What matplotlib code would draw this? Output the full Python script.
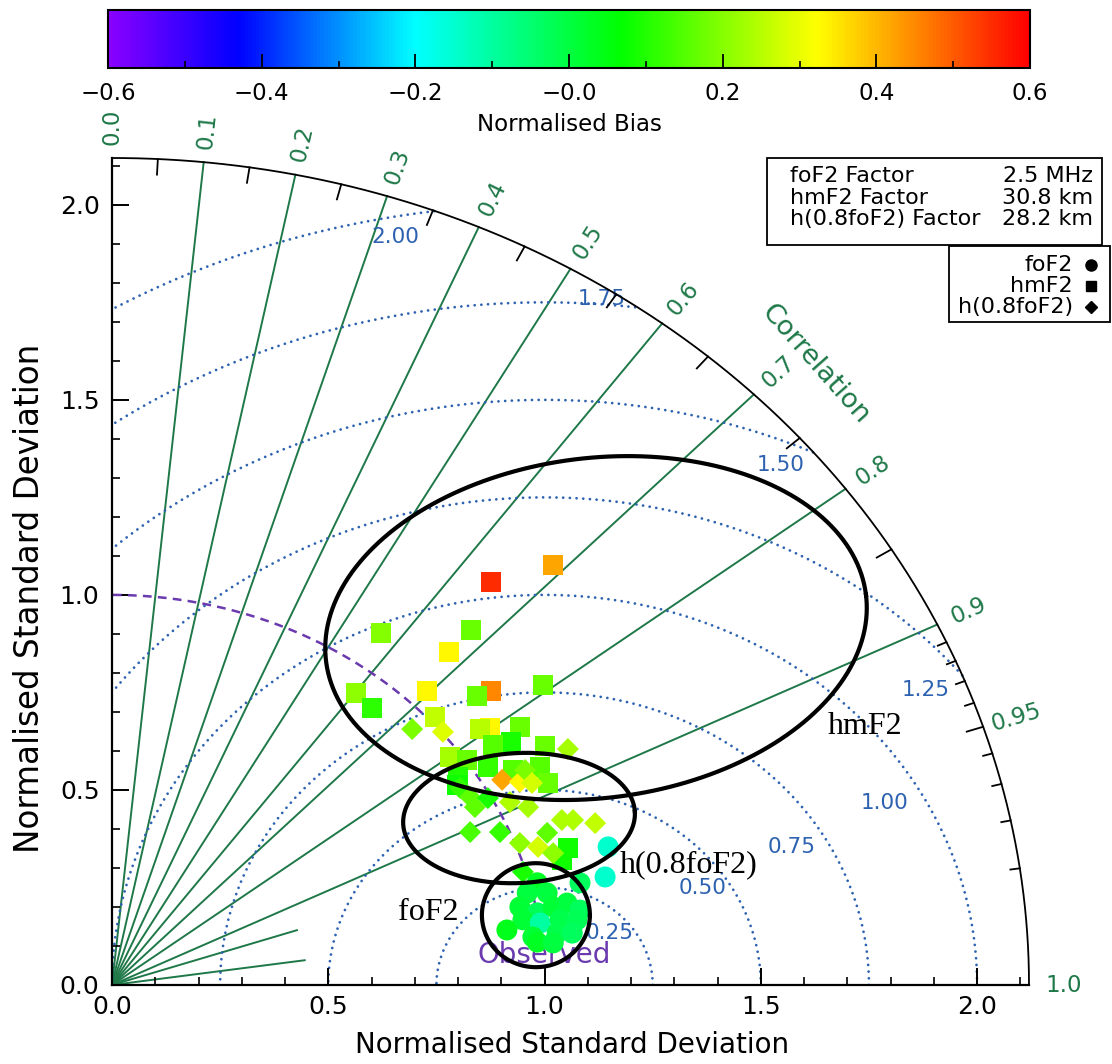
import numpy as np
import matplotlib
matplotlib.use("Agg")
import matplotlib.pyplot as plt
from matplotlib.colors import LinearSegmentedColormap, Normalize
from matplotlib.patches import Rectangle
from matplotlib.lines import Line2D
import matplotlib.cm as cm

W, H, DPI = 1112, 1064, 100

# ---------------- data (normalised std components) -------------
hm_x = [0.876, 1.020, 0.622, 0.830, 0.779, 0.564, 0.601, 0.728, 0.876, 0.844, 0.997,
        0.747, 0.874, 0.851, 0.943, 0.922, 1.001, 0.881, 0.781, 0.821, 0.869, 0.800,
        0.990, 1.008, 0.927, 1.054, 1.040, 0.798]
hm_y = [1.033, 1.077, 0.903, 0.910, 0.854, 0.749, 0.710, 0.754, 0.754, 0.741, 0.769,
        0.687, 0.659, 0.656, 0.662, 0.623, 0.613, 0.615, 0.585, 0.577, 0.559, 0.533,
        0.559, 0.518, 0.551, 0.351, 0.321, 0.513]
hm_bias = [0.55, 0.42, 0.20, 0.17, 0.33, 0.21, 0.11, 0.33, 0.45, 0.17, 0.17,
           0.26, 0.33, 0.25, 0.17, 0.09, 0.17, 0.15, 0.23, 0.17, 0.12, 0.10,
           0.15, 0.17, 0.15, 0.08, 0.08, 0.08]

h08_x = [0.694, 0.765, 1.054, 0.902, 0.943, 0.955, 0.971, 0.805, 0.828, 0.869, 0.920,
         0.962, 0.839, 1.040, 1.066, 1.117, 0.828, 0.897, 1.006, 0.943, 0.985, 1.020, 0.950]
h08_y = [0.656, 0.649, 0.605, 0.526, 0.521, 0.551, 0.518, 0.505, 0.482, 0.479, 0.469,
         0.456, 0.456, 0.423, 0.423, 0.415, 0.392, 0.392, 0.390, 0.364, 0.354, 0.338, 0.290]
h08_bias = [0.19, 0.29, 0.23, 0.42, 0.33, 0.19, 0.28, 0.12, 0.16, 0.09, 0.24,
            0.23, 0.16, 0.24, 0.24, 0.26, 0.14, 0.12, 0.16, 0.21, 0.28, 0.21, 0.09]

fo_x = [1.147, 1.140, 1.082, 0.983, 0.960, 1.006, 0.943, 0.983, 1.020, 1.052, 1.082,
        0.950, 0.990, 1.036, 1.075, 0.913, 0.973, 1.029, 1.064, 0.983, 1.020]
fo_y = [0.354, 0.277, 0.262, 0.262, 0.236, 0.236, 0.200, 0.185, 0.200, 0.210, 0.192,
        0.167, 0.159, 0.167, 0.167, 0.141, 0.123, 0.133, 0.133, 0.110, 0.108]
fo_bias = [-0.15, -0.15, -0.03, 0.03, 0.00, 0.00, 0.01, -0.02, 0.01, 0.00, -0.03,
           0.01, -0.10, -0.01, -0.02, 0.04, 0.01, -0.01, -0.03, 0.03, 0.00]

corr_lines = [0.1, 0.2, 0.3, 0.4, 0.5, 0.6, 0.7, 0.8, 0.9]
corr_short = [0.95, 0.99]
corr_label_vals = [0.0, 0.1, 0.2, 0.3, 0.4, 0.5, 0.6, 0.7, 0.8, 0.9, 0.95, 1.0]
corr_label_txt = ['0.0', '0.1', '0.2', '0.3', '0.4', '0.5', '0.6', '0.7', '0.8', '0.9', '0.95', '1.0']
rms_levels = [0.25, 0.50, 0.75, 1.00, 1.25, 1.50, 1.75, 2.00]
rms_txt = ['0.25', '0.50', '0.75', '1.00', '1.25', '1.50', '1.75', '2.00']
rms_lab_x = [1.151, 1.366, 1.572, 1.787, 1.880, 1.545, 1.133, 0.654]
rms_lab_y = [0.133, 0.249, 0.354, 0.467, 0.756, 1.333, 1.759, 1.918]
std_ticks = [0.0, 0.5, 1.0, 1.5, 2.0]
std_tick_txt = ['0.0', '0.5', '1.0', '1.5', '2.0']
cb_ticks = [-0.6, -0.4, -0.2, 0.0, 0.2, 0.4, 0.6]
cb_tick_txt = ['\u22120.6', '\u22120.4', '\u22120.2', '\u22120.0', '0.2', '0.4', '0.6']
factor_names = ['foF2 Factor', 'hmF2 Factor', 'h(0.8foF2) Factor']
factor_vals = ['2.5 MHz', '30.8 km', '28.2 km']
R = 2.12

GREEN = '#1e7848'
BLUE = '#2d62b0'
PURPLE = '#6a3aae'

cmap = LinearSegmentedColormap.from_list('bias', [
    (0.0, '#8a00ff'), (0.14, '#0000ff'), (0.333, '#00ffff'),
    (0.556, '#00ff00'), (0.77, '#ffff00'), (1.0, '#ff0000')])
norm = Normalize(-0.6, 0.6)

plt.rcParams['font.family'] = ['DejaVu Sans']
fig = plt.figure(figsize=(W / DPI, H / DPI), dpi=DPI)
ax = fig.add_axes([112 / W, (H - 985) / H, 917 / W, 827 / H])
ax.set_xlim(0, R)
ax.set_ylim(0, R)
for s in ['top', 'right']:
    ax.spines[s].set_visible(False)
for s in ['left', 'bottom']:
    ax.spines[s].set_linewidth(1.6)
ax.set_xticks(std_ticks)
ax.set_yticks(std_ticks)
ax.set_xticklabels(std_tick_txt)
ax.set_yticklabels(std_tick_txt)
ax.set_xticks(np.arange(0.1, 2.11, 0.1), minor=True)
ax.set_yticks(np.arange(0.1, 2.11, 0.1), minor=True)
ax.tick_params(which='major', direction='in', length=12, width=1.4, labelsize=18)
ax.tick_params(axis='y', which='major', pad=9)
ax.tick_params(axis='x', which='major', pad=7)
ax.tick_params(which='minor', direction='in', length=6, width=1.2)

# outer arc
th = np.linspace(0, np.pi / 2, 400)
ax.plot(R * np.cos(th), R * np.sin(th), color='black', lw=1.3, clip_on=False, zorder=3)

# correlation lines
for c in corr_lines:
    t = np.arccos(c)
    ax.plot([0, R * np.cos(t)], [0, R * np.sin(t)], color=GREEN, lw=1.4, zorder=1)
for c in corr_short:
    t = np.arccos(c)
    ax.plot([0, 0.45 * np.cos(t)], [0, 0.45 * np.sin(t)], color=GREEN, lw=1.4, zorder=1)

# arc ticks
for c in list(np.arange(0.05, 0.86, 0.1)) + [0.95]:
    t = np.arccos(c)
    ax.plot([R * np.cos(t), (R - 0.04) * np.cos(t)], [R * np.sin(t), (R - 0.04) * np.sin(t)],
            color='black', lw=1.3, clip_on=False, zorder=3)
for c in [0.91, 0.92, 0.93, 0.94, 0.96, 0.97, 0.98, 0.99]:
    t = np.arccos(c)
    ax.plot([R * np.cos(t), (R - 0.022) * np.cos(t)], [R * np.sin(t), (R - 0.022) * np.sin(t)],
            color='black', lw=1.3, clip_on=False, zorder=3)

# correlation labels (radial)
p0 = ax.transData.transform((0, 0))
def pix_angle(t):
    p1 = ax.transData.transform((np.cos(t), np.sin(t)))
    return np.degrees(np.arctan2(p1[1] - p0[1], p1[0] - p0[0]))

for c, txt in zip(corr_label_vals, corr_label_txt):
    t = np.arccos(c)
    rr = 2.2
    ax.text(rr * np.cos(t), rr * np.sin(t), txt, color=GREEN, fontsize=16.5,
            rotation=pix_angle(t), ha='center', va='center', clip_on=False)

ax.text(1.625, 1.590, 'Correlation', color=GREEN, fontsize=19.5,
        rotation=pix_angle(np.radians(44.4)) - 90, ha='center', va='center')

# RMS circles
tt = np.linspace(0, np.pi, 800)
for r in rms_levels:
    cx = 1 + r * np.cos(tt)
    cy = r * np.sin(tt)
    m = (cx ** 2 + cy ** 2 > R ** 2) | (cx < 0)
    cx = np.where(m, np.nan, cx)
    cy = np.where(m, np.nan, cy)
    ax.plot(cx, cy, color=BLUE, lw=2.0, linestyle=(0, (0.01, 2.4)),
            dash_capstyle='round', zorder=1)
for x, y, txt in zip(rms_lab_x, rms_lab_y, rms_txt):
    ax.text(x, y, txt, color=BLUE, fontsize=15.5, ha='center', va='center', zorder=2)

# reference arc (std = 1)
ta = np.linspace(np.radians(12), np.pi / 2, 200)
ax.plot(np.cos(ta), np.sin(ta), color=PURPLE, lw=1.8, linestyle=(0, (3.5, 2.5)), zorder=2)
ax.text(1.0, 0.077, 'Observed', color=PURPLE, fontsize=20, ha='center', va='center', zorder=2)

# points
ax.scatter(hm_x, hm_y, c=hm_bias, cmap=cmap, norm=norm, marker='s', s=207,
           edgecolors='none', zorder=4)
ax.scatter(h08_x, h08_y, c=h08_bias, cmap=cmap, norm=norm, marker='D', s=125,
           edgecolors='none', zorder=5)
ax.scatter(fo_x, fo_y, c=fo_bias, cmap=cmap, norm=norm, marker='o', s=228,
           edgecolors='none', zorder=6)

# annotation ellipses (drawn in screen pixels)
def draw_ellipse(cx, cy, a_px, b_px, ang):
    t = np.linspace(0, 2 * np.pi, 400)
    c0 = ax.transData.transform((cx, cy))
    ex, ey = a_px * np.cos(t), b_px * np.sin(t)
    ca, sa = np.cos(np.radians(ang)), np.sin(np.radians(ang))
    X = c0[0] + ex * ca - ey * sa
    Y = c0[1] + ex * sa + ey * ca
    d = ax.transData.inverted().transform(np.column_stack([X, Y]))
    ax.plot(d[:, 0], d[:, 1], color='black', lw=3, clip_on=False, zorder=8)

draw_ellipse(1.119, 0.915, 272, 170, 7)
draw_ellipse(0.941, 0.428, 116, 65, 3)
draw_ellipse(0.980, 0.179, 54, 52, 0)

serif = ['Liberation Serif', 'DejaVu Serif']
ax.text(1.741, 0.662, 'hmF2', fontsize=23, family=serif, ha='center', va='center', zorder=9)
ax.text(1.334, 0.308, 'h(0.8foF2)', fontsize=23, family=serif, ha='center', va='center', zorder=9)
ax.text(0.731, 0.185, 'foF2', fontsize=23, family=serif, ha='center', va='center', zorder=9)

# axis titles
fig.text(572 / W, 1 - 1045 / H, 'Normalised Standard Deviation', fontsize=20,
         ha='center', va='center')
fig.text(30 / W, 1 - 598 / H, 'Normalised Standard Deviation', fontsize=23.5,
         ha='center', va='center', rotation=90)

# colorbar
cax = fig.add_axes([108 / W, 1 - 68 / H, 922 / W, 58 / H])
sm = cm.ScalarMappable(norm=norm, cmap=cmap)
cb = fig.colorbar(sm, cax=cax, orientation='horizontal')
cb.outline.set_linewidth(1.5)
cb.set_ticks(cb_ticks)
cb.set_ticklabels(cb_tick_txt)
cax.set_xticks(np.arange(-0.5, 0.51, 0.2), minor=True)
cax.tick_params(which='major', direction='in', length=10, width=1.3, labelsize=16.5, pad=10)
cax.tick_params(which='minor', direction='in', length=5, width=1.2)
cax.set_xlabel('Normalised Bias', fontsize=16.5, labelpad=6)

# legend boxes
fig.add_artist(Rectangle((767 / W, 1 - 245 / H), 335 / W, 87 / H, transform=fig.transFigure,
                         fill=False, edgecolor='black', lw=1.3))
for i, (n, v) in enumerate(zip(factor_names, factor_vals)):
    yy = 1 - (176 + 21.5 * i) / H
    fig.text(790 / W, yy, n, fontsize=16, ha='left', va='center')
    fig.text(1093 / W, yy, v, fontsize=16, ha='right', va='center')

fig.add_artist(Rectangle((949 / W, 1 - 322 / H), 161 / W, 76 / H, transform=fig.transFigure,
                         fill=False, edgecolor='black', lw=1.3))
for i, (n, mk, ms) in enumerate(zip(['foF2', 'hmF2', 'h(0.8foF2)'], ['o', 's', 'D'], [8, 7.5, 6])):
    yy = 1 - (265 + 21 * i) / H
    fig.text(1073 / W, yy, n, fontsize=16, ha='right', va='center')
    fig.add_artist(Line2D([1091 / W], [yy], marker=mk, markersize=ms, color='black',
                          transform=fig.transFigure))

fig.savefig('out.png', dpi=DPI)
